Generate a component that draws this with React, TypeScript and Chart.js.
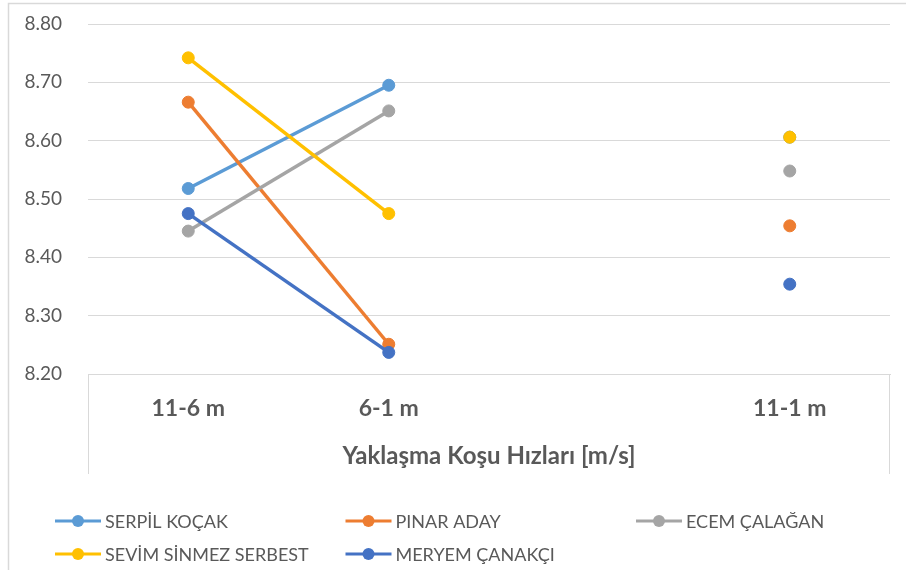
import React, { useEffect, useRef } from "react";
import { Chart, registerables } from "chart.js";

Chart.register(...registerables);

const categories = ["11-6 m", "6-1 m", "", "11-1 m"];
const seriesNames = [
  "SERPİL KOÇAK",
  "PINAR ADAY",
  "ECEM ÇALAĞAN",
  "SEVİM SİNMEZ SERBEST",
  "MERYEM ÇANAKÇI",
];
const serpil = [8.518, 8.695, null, 8.606];
const pinar = [8.666, 8.251, null, 8.454];
const ecem = [8.445, 8.651, null, 8.548];
const sevim = [8.742, 8.475, null, 8.606];
const meryem = [8.475, 8.237, null, 8.354];
const seriesValues = [serpil, pinar, ecem, sevim, meryem];
const colors = ["#5B9BD5", "#ED7D31", "#A5A5A5", "#FFC000", "#4472C4"];
const yMin = 8.2;
const yMax = 8.8;
const yStep = 0.1;
const xTitle = "Yaklaşma Koşu Hızları [m/s]";

const FONT = "Lato, 'Open Sans', sans-serif";
const TEXT = "#595959";
const GRID = "#d9d9d9";

const framePlugin = {
  id: "frame",
  beforeDraw(chart: any) {
    const { ctx, width, height } = chart;
    ctx.save();
    ctx.fillStyle = "#ffffff";
    ctx.fillRect(0, 0, width, height);
    ctx.strokeStyle = GRID;
    ctx.lineWidth = 1.5;
    ctx.beginPath();
    ctx.moveTo(8.5, height);
    ctx.lineTo(8.5, 3.5);
    ctx.lineTo(width, 3.5);
    ctx.stroke();
    ctx.restore();
  },
  afterDraw(chart: any) {
    const { ctx, chartArea } = chart;
    const xs = chart.scales.x;
    ctx.save();
    ctx.strokeStyle = GRID;
    ctx.lineWidth = 1;
    ctx.beginPath();
    ctx.moveTo(Math.round(chartArea.left) + 0.5, chartArea.bottom);
    ctx.lineTo(Math.round(chartArea.left) + 0.5, xs.bottom);
    ctx.moveTo(Math.round(chartArea.right) - 0.5, chartArea.bottom);
    ctx.lineTo(Math.round(chartArea.right) - 0.5, xs.bottom);
    ctx.stroke();

    const ds = chart.data.datasets;
    const colW = 290.5;
    const x0 = 55;
    const y0 = 521;
    const rowH = 33;
    ctx.font = `18px ${FONT}`;
    ctx.textBaseline = "middle";
    ctx.textAlign = "left";
    ds.forEach((d: any, i: number) => {
      const col = i % 3;
      const row = Math.floor(i / 3);
      const lx = x0 + col * colW;
      const ly = y0 + row * rowH;
      ctx.strokeStyle = d.borderColor;
      ctx.lineWidth = 3;
      ctx.beginPath();
      ctx.moveTo(lx, ly);
      ctx.lineTo(lx + 46, ly);
      ctx.stroke();
      ctx.fillStyle = d.borderColor;
      ctx.beginPath();
      ctx.arc(lx + 23, ly, 6, 0, Math.PI * 2);
      ctx.fill();
      ctx.fillStyle = TEXT;
      ctx.fillText(d.label, lx + 50, ly + 1);
    });
    ctx.restore();
  },
};

export default function App() {
  const ref = useRef<HTMLCanvasElement | null>(null);
  useEffect(() => {
    document.body.style.margin = "0";
    const canvas = ref.current;
    if (!canvas) return;
    const chart = new Chart(canvas, {
      type: "line",
      data: {
        labels: categories,
        datasets: seriesNames.map((name, i) => ({
          label: name,
          data: seriesValues[i],
          borderColor: colors[i],
          backgroundColor: colors[i],
          pointBackgroundColor: colors[i],
          pointBorderColor: colors[i],
          borderWidth: 3.5,
          pointRadius: 6,
          pointBorderWidth: 1,
          tension: 0,
          spanGaps: false,
          order: seriesNames.length - i,
        })),
      },
      options: {
        animation: false,
        responsive: false,
        maintainAspectRatio: false,
        layout: { padding: { left: 0, right: 16, top: 24, bottom: 96 } },
        plugins: {
          legend: { display: false },
          tooltip: { enabled: false },
          title: { display: false },
        },
        scales: {
          x: {
            type: "category",
            offset: true,
            grid: { display: false, drawTicks: false },
            border: { display: true, color: GRID, width: 1 },
            ticks: {
              color: TEXT,
              font: { family: FONT, size: 23, weight: "bold" },
              padding: 21,
              maxRotation: 0,
              autoSkip: false,
            },
            title: {
              display: true,
              text: xTitle,
              color: TEXT,
              font: { family: FONT, size: 24, weight: "bold" },
              padding: { top: 0, bottom: 3.5 },
            },
            afterFit(scale: any) {
              scale.height = 100;
              scale.paddingTop = 0;
              scale.paddingBottom = 0;
            },
          },
          y: {
            min: yMin,
            max: yMax,
            grid: { color: GRID, lineWidth: 1, drawTicks: false },
            border: { display: false },
            ticks: {
              stepSize: yStep,
              color: TEXT,
              font: { family: FONT, size: 19 },
              padding: 26,
              callback: (v: any) => Number(v).toFixed(2),
            },
            afterFit(scale: any) {
              scale.width = 88;
              scale.paddingTop = 0;
              scale.paddingBottom = 0;
            },
          },
        },
      },
      plugins: [framePlugin],
    });
    return () => chart.destroy();
  }, []);
  return (
    <div style={{ width: 906, height: 570 }}>
      <canvas ref={ref} width={906} height={570} style={{ display: "block", width: 906, height: 570 }} />
    </div>
  );
}
